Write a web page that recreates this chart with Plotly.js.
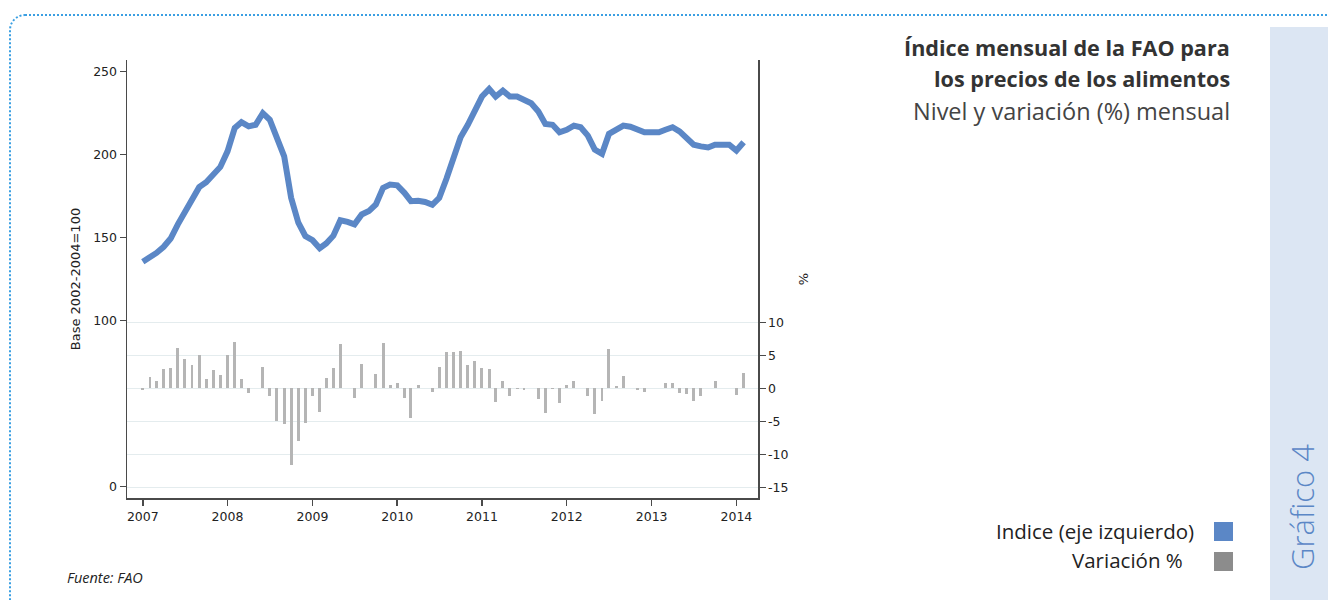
<!DOCTYPE html>
<html>
<head>
<meta charset="utf-8">
<script src="https://cdn.plot.ly/plotly-3.0.1.min.js"></script>
<style>
  html, body { margin: 0; padding: 0; background: #ffffff; }
  #wrap { position: relative; width: 1328px; height: 600px; overflow: hidden; background: #fff; }
  #card { position: absolute; left: 9px; top: 14px; width: 1400px; height: 700px;
          border: 2px dotted #3a9fe2; border-radius: 16px; box-sizing: border-box; }
  #side { position: absolute; left: 1270px; top: 27px; width: 58px; height: 573px; background: #dce6f3; }
  #chart { position: absolute; left: 0; top: 0; width: 1328px; height: 600px; }
</style>
</head>
<body>
<div id="wrap">
  <div id="card"></div>
  <div id="side"></div>
  <div id="chart"></div>
</div>
<script>
// ---- data ----
const startYear = 2007;            // first month: January 2007
const yearTicks = [2007, 2008, 2009, 2010, 2011, 2012, 2013, 2014];

// FAO food price index (2002-2004 = 100), monthly, Jan 2007 - Feb 2014
const indice = [
  135.5, 137.8, 140.8, 144.5, 149.5, 158, 165, 173.5, 180.4, 183.4, 187.7, 192.6,
  202, 216, 219.5, 217, 218, 225, 221, 210, 199, 174, 159, 151,
  148.5, 143.6, 146.5, 151.2, 160.5, 159.5, 158, 164, 166, 170, 180, 182,
  181.5, 177, 172, 172.2, 171.5, 169.8, 174, 185.5, 199, 210.5, 218, 227,
  235, 239.5, 235, 238.5, 235, 235, 233.5, 231, 226, 218.5, 218, 213.5,
  215, 217.5, 216.5, 211.5, 203, 200.5, 212.5, 215, 217.5, 216.8, 215, 213.5,
  213.5, 213.5, 215, 216.5, 214, 210, 206, 205, 204.3, 206, 206, 206,
  202.5, 207.5
];

// monthly variation (%)
const variacion = [
  -0.2, 1.8, 1.1, 2.9, 3.1, 6.1, 4.4, 3.5, 5.0, 1.5, 2.8, 2.0,
  5.0, 7.0, 1.4, -0.7, 0, 3.3, -1.2, -4.9, -5.4, -11.6, -7.9, -5.2,
  -1.2, -3.5, 1.6, 3.1, 6.7, 0, -1.5, 3.7, 0, 2.2, 6.8, 0.5,
  0.9, -1.5, -4.4, 0.5, 0, -0.6, 3.3, 5.5, 5.5, 5.7, 3.5, 4.1,
  3.1, 2.9, -2.0, 1.2, -1.1, -0.1, -0.3, 0, -1.6, -3.7, -0.1, -2.2,
  0.5, 1.1, 0, -1.1, -3.9, -1.9, 5.9, 0.4, 1.9, 0, -0.3, -0.5,
  0, 0, 0.9, 0.9, -0.7, -0.8, -1.9, -1.1, 0, 1.2, 0, 0,
  -1.0, 2.4
];

const leftTicks = [0, 100, 150, 200, 250];
const rightTicks = [-15, -10, -5, 0, 5, 10];
const rightTickText = ['-15', '-10', '-5', '0', '5', '10'];

// month categories as dates
const months = indice.map((_, i) => {
  const y = startYear + Math.floor(i / 12);
  const m = (i % 12) + 1;
  return y + '-' + (m < 10 ? '0' + m : m) + '-01';
});

const colIndice = '#5b87c6';
const colVar = '#b5b5b5';
const axisCol = '#4a4a4a';
const tickFont = { family: 'DejaVu Sans', size: 12.5, color: '#222' };

const traces = [
  {
    type: 'bar', x: months, y: variacion, yaxis: 'y2',
    marker: { color: colVar, line: { width: 0 } },
    width: 1.1e9, name: 'Variación %', hoverinfo: 'skip'
  },
  {
    type: 'scatter', mode: 'lines', x: months, y: indice, yaxis: 'y',
    line: { color: colIndice, width: 6 }, name: 'Indice (eje izquierdo)', hoverinfo: 'skip'
  }
];

const W = 631, H = 438, L = 127, T = 60;
const px = v => (v - L) / W;
const py = v => (T + H - v) / H;
const txt = { family: 'Open Sans', color: '#333' };

const layout = {
  width: 1328, height: 600,
  margin: { l: 127, r: 570, t: 60, b: 102, pad: 0 },
  paper_bgcolor: 'rgba(0,0,0,0)', plot_bgcolor: 'rgba(0,0,0,0)',
  showlegend: false, hovermode: false, bargap: 0,
  xaxis: {
    type: 'date', range: ['2006-10-25', '2014-04-04'],
    tickvals: yearTicks.map(y => y + '-01-01'), ticktext: yearTicks.map(String),
    ticks: 'outside', ticklen: 6, tickwidth: 1.5, tickcolor: axisCol,
    showline: true, linecolor: axisCol, linewidth: 1.5,
    showgrid: false, zeroline: false, tickfont: tickFont
  },
  yaxis: {
    range: [-6.8, 257], tickvals: leftTicks, ticktext: leftTicks.map(String),
    ticks: 'outside', ticklen: 6, tickwidth: 1.5, tickcolor: axisCol,
    showline: true, linecolor: axisCol, linewidth: 1.5,
    showgrid: false, zeroline: false, tickfont: tickFont,
    title: { text: 'Base 2002-2004=100', font: { family: 'DejaVu Sans', size: 13, color: '#222' }, standoff: 9 }
  },
  yaxis2: {
    overlaying: 'y', side: 'right', anchor: 'x',
    range: [-16.55, 49.64], tickvals: rightTicks, ticktext: rightTickText,
    ticks: 'outside', ticklen: 6, tickwidth: 1.5, tickcolor: axisCol,
    showline: true, linecolor: axisCol, linewidth: 1.5,
    showgrid: true, gridcolor: '#e4ecee', gridwidth: 1, zeroline: false,
    tickfont: tickFont,
    title: { text: '%', font: { family: 'DejaVu Sans', size: 13, color: '#222' }, standoff: 11 }
  },
  annotations: [
    { xref: 'paper', yref: 'paper', x: px(1232), y: py(47), xanchor: 'right', yanchor: 'middle',
      text: '<b>Índice mensual de la FAO para</b>', showarrow: false,
      font: Object.assign({}, txt, { size: 21.6, color: '#333' }) },
    { xref: 'paper', yref: 'paper', x: px(1232), y: py(78), xanchor: 'right', yanchor: 'middle',
      text: '<b>los precios de los alimentos</b>', showarrow: false,
      font: Object.assign({}, txt, { size: 21.6, color: '#333' }) },
    { xref: 'paper', yref: 'paper', x: px(1232), y: py(111), xanchor: 'right', yanchor: 'middle',
      text: 'Nivel y variación (%) mensual', showarrow: false,
      font: Object.assign({}, txt, { size: 23.5, color: '#444' }) },
    { xref: 'paper', yref: 'paper', x: px(1196), y: py(531), xanchor: 'right', yanchor: 'middle',
      text: 'Indice (eje izquierdo)', showarrow: false,
      font: Object.assign({}, txt, { size: 20.5, color: '#222' }) },
    { xref: 'paper', yref: 'paper', x: px(1185), y: py(560), xanchor: 'right', yanchor: 'middle',
      text: 'Variación %', showarrow: false,
      font: Object.assign({}, txt, { size: 20.5, color: '#222' }) },
    { xref: 'paper', yref: 'paper', x: px(1302), y: py(507), xanchor: 'center', yanchor: 'middle',
      text: 'Gráfico 4', textangle: -90, showarrow: false,
      font: { family: 'Open Sans', size: 31, color: colIndice, weight: 300 } },
    { xref: 'paper', yref: 'paper', x: px(65), y: py(577), xanchor: 'left', yanchor: 'middle',
      text: '<i>Fuente: FAO</i>', showarrow: false,
      font: Object.assign({}, txt, { size: 14.5, color: '#222' }) }
  ],
  shapes: [
    { type: 'rect', xref: 'paper', yref: 'paper', x0: px(1214), x1: px(1233), y0: py(541), y1: py(522),
      fillcolor: colIndice, line: { width: 0 } },
    { type: 'rect', xref: 'paper', yref: 'paper', x0: px(1214), x1: px(1233), y0: py(571), y1: py(552),
      fillcolor: '#8c8c8c', line: { width: 0 } }
  ]
};

Plotly.newPlot('chart', traces, layout, { staticPlot: true, displayModeBar: false });
</script>
</body>
</html>
